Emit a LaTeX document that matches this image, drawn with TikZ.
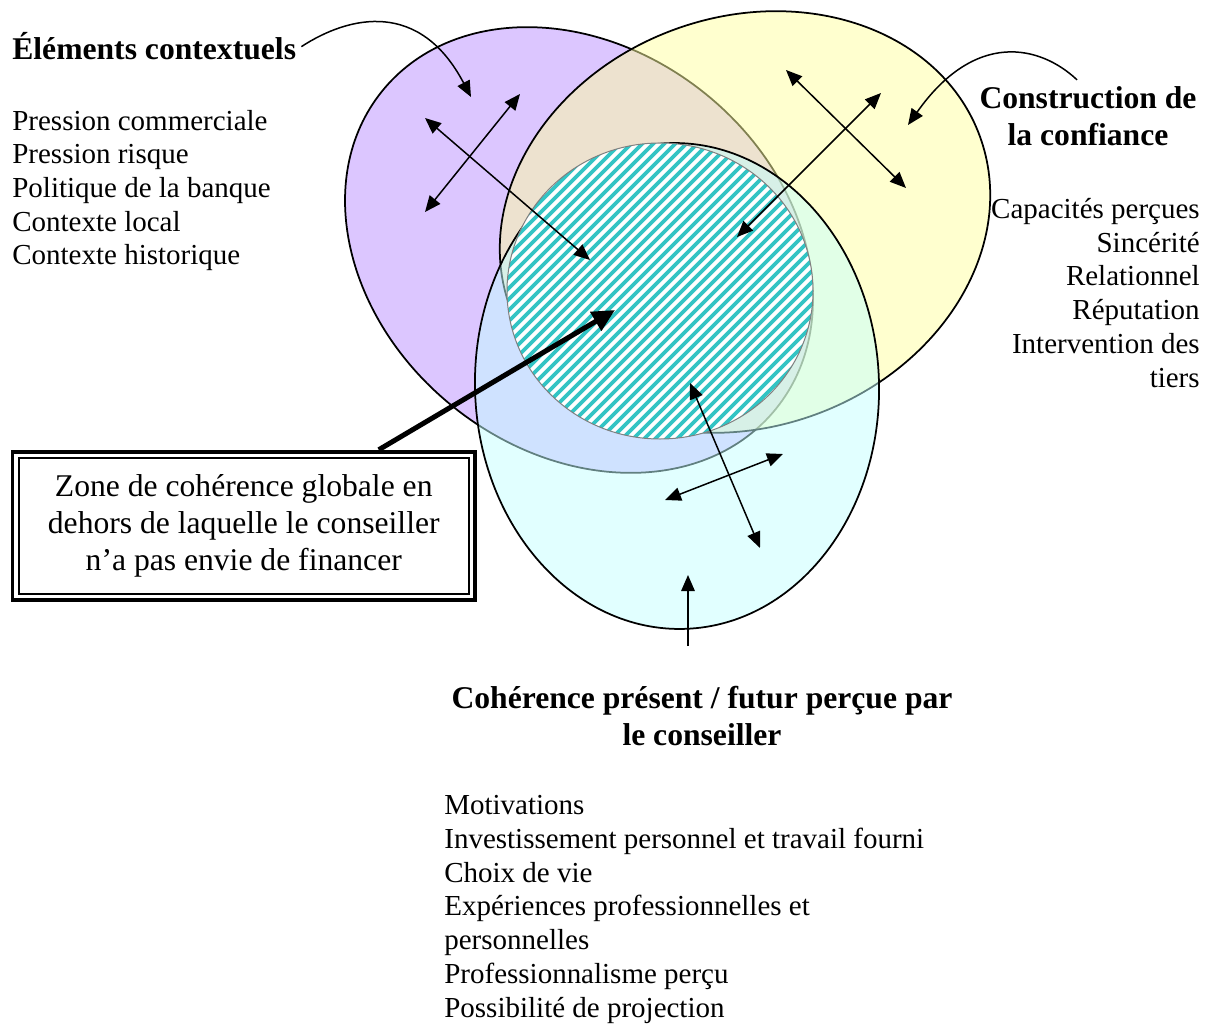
\documentclass[tikz,border=0pt]{standalone}
\usepackage{fontspec}
\setmainfont{Liberation Serif}
\usetikzlibrary{arrows.meta,positioning,calc}
\definecolor{lilas}{RGB}{220,198,255}
\definecolor{jaune}{RGB}{255,255,160}
\definecolor{cyanclair}{RGB}{195,255,255}
\definecolor{turq}{RGB}{51,196,196}
\tikzset{
  hd/.style={font=\fontsize{18}{21}\selectfont\bfseries,inner sep=0pt},
  lst/.style={font=\fontsize{16.5}{19.2}\selectfont,inner sep=0pt,align=left},
  zone/.style={draw,line width=0.04cm,minimum width=9.01cm,minimum height=2.73cm,align=center,font=\fontsize{18}{21}\selectfont},
  ens/.style={draw=black,line width=0.035cm},
  hach/.style={turq,line width=0.075cm},
  arr/.style={-{Triangle[length=0.32cm,width=0.27cm]},line width=0.03cm},
  dbl/.style={{Triangle[length=0.32cm,width=0.27cm]}-{Triangle[length=0.32cm,width=0.27cm]},line width=0.03cm},
  grosse/.style={-{Triangle[length=0.45cm,width=0.42cm]},line width=0.1cm},
}
\begin{document}
\begin{tikzpicture}[x=0.02cm,y=-0.02cm]
  \useasboundingbox (0,0) rectangle (1210,1024);
  % les trois ensembles
  \draw[ens,fill=lilas,rotate around={-38.8:(579,250)}] (579,250) ellipse [x radius=253,y radius=201];
  \draw[ens,fill=jaune,fill opacity=0.5,rotate around={20:(745,222)}] (745,222) ellipse [x radius=250,y radius=205];
  \draw[ens,fill=cyanclair,fill opacity=0.5,rotate around={2:(677,386)}] (677,386) ellipse [x radius=202,y radius=243];
  % zone hachuree
  \begin{scope}
    \clip (660,291) ellipse [x radius=153,y radius=148];
    \fill[white] (500,140) rectangle (820,445);
    \foreach \i in {-22,...,22}
      \draw[hach] ({500+11*\i},451) -- ++(320,-320);
  \end{scope}
  \draw[gray,line width=0.02cm] (660,291) ellipse [x radius=153,y radius=148];
  % textes
  \node[hd,anchor=base west] (ctx) at (12,60) {Éléments contextuels};
  \node[lst,below=4.1cm of ctx.base west,anchor=base west] (ctxlist) {Pression commerciale\\Pression risque\\Politique de la banque\\Contexte local\\Contexte historique};
  \node[hd,align=center,anchor=base] (conf) at (1088,145) {Construction de\\la confiance};
  \node[lst,align=right,anchor=base east] (conflist) at (1200,387) {Capacités perçues\\Sincérité\\Relationnel\\Réputation\\Intervention des\\tiers};
  \node[zone] (box) at (243.75,526) {Zone de cohérence globale en\\dehors de laquelle le conseiller\\n’a pas envie de financer};
  \draw[line width=0.07cm] ([shift={(-5,-5)}]box.north west) rectangle ([shift={(5,5)}]box.south east);
  \node[hd,align=center,anchor=base] (coh) at (702,745) {Cohérence présent / futur perçue par\\le conseiller};
  \node[lst,anchor=base west] (cohlist) at (444,1017) {Motivations\\Investissement personnel et travail fourni\\Choix de vie\\Expériences professionnelles et\\personnelles\\Professionnalisme perçu\\Possibilité de projection};
  % extremites des fleches
  \coordinate (c1) at (520,94);  \coordinate (c2) at (425,212);
  \coordinate (c3) at (425,118); \coordinate (c4) at (590,260);
  \coordinate (j1) at (786,70);  \coordinate (j2) at (906,188);
  \coordinate (j3) at (881,93);  \coordinate (j4) at (737,237);
  \coordinate (v1) at (690,383); \coordinate (v2) at (760,548);
  \coordinate (v3) at (665,500); \coordinate (v4) at (783,454);
  \coordinate (pctx) at (471,97);
  \coordinate (pconf) at (908,125);
  \coordinate (pcoh) at (688,575); \coordinate (qcoh) at (688,646);
  \coordinate (pzone) at (615,310);
  \draw[dbl] (c1) -- (c2); \draw[dbl] (c3) -- (c4);
  \draw[dbl] (j1) -- (j2); \draw[dbl] (j3) -- (j4);
  \draw[dbl] (v1) -- (v2); \draw[dbl] (v3) -- (v4);
  \draw[arr] ([xshift=0.1cm]ctx.east) .. controls (350,15) and (420,0) .. (pctx);
  \draw[arr] ([shift={(-11,-6)}]conf.north) .. controls (1040,45) and (975,30) .. (pconf);
  \draw[arr] (qcoh) -- (pcoh);
  \draw[grosse] ([shift={(135,-7)}]box.north) -- (pzone);
\end{tikzpicture}
\end{document}
